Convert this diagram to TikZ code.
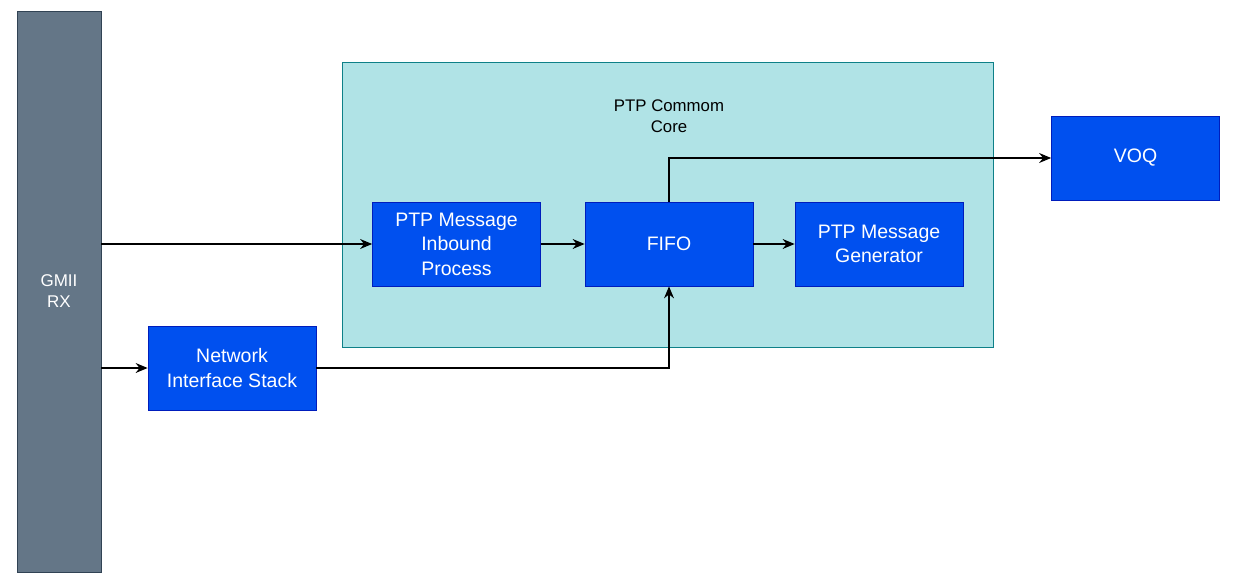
\documentclass[tikz,border=0pt]{standalone}
\usepackage{fontspec}
\setmainfont{Liberation Sans}
\usetikzlibrary{arrows.meta}
\definecolor{slatefill}{HTML}{647687}
\definecolor{slateline}{HTML}{314354}
\definecolor{tealfill}{HTML}{B0E3E6}
\definecolor{tealline}{HTML}{0E8088}
\definecolor{bluefill}{HTML}{0050EF}
\definecolor{blueline}{HTML}{001DBC}

\tikzset{
  block/.style={draw=blueline, fill=bluefill, text=white, line width=0.8pt,
    minimum width=168pt, minimum height=84pt, align=center, font=\fontsize{19.5}{24.5}\selectfont},
  link/.style={-{Stealth[length=12pt,width=10pt,inset=4pt]}, line width=1.1pt}
}

\begin{document}
\begin{tikzpicture}[x=1pt, y=-1pt]
    \useasboundingbox (0,0) rectangle (1233,585);
    % container and input bar
    \node[draw=tealline, fill=tealfill, line width=0.8pt, minimum width=651pt,
          minimum height=285pt, anchor=north west] (core) at (342,62) {};
    \node[font=\fontsize{16.8}{21}\selectfont, align=center] (corelbl) at (669,116) {PTP Commom\\Core};
    \node[draw=slateline, fill=slatefill, text=white, line width=0.8pt, minimum width=84pt,
          minimum height=561pt, align=center, font=\fontsize{17}{21}\selectfont] (gmii) at (59,291.5) {GMII\\RX};

    % blocks
    \node[block] (inbound) at (456.5,244) {PTP Message\\Inbound\\Process};
    \node[block] (fifo) at (669,244) {FIFO};
    \node[block] (gen) at (879,244) {PTP Message\\Generator};
    \node[block] (voq) at (1135.5,158) {VOQ};
    \node[block] (nis) at (232,368) {Network\\Interface Stack};

    % connectors
    \draw[link] (gmii.east |- inbound.west) -- (inbound.west);
    \draw[link] (gmii.east |- nis.west) -- (nis.west);
    \draw[link] (inbound.east) -- (fifo.west);
    \draw[link] (fifo.east) -- (gen.west);
    \draw[link] (fifo.north) |- (voq.west);
    \draw[link] (nis.east) -| (fifo.south);
  \end{tikzpicture}
\end{document}
